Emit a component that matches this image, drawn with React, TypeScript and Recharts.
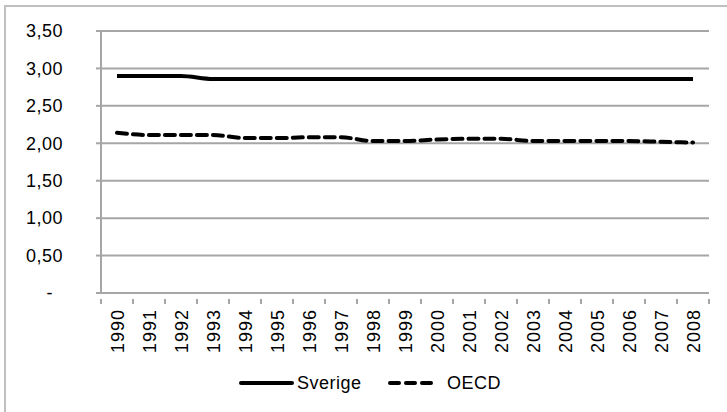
import { ComposedChart, Line, XAxis, YAxis, CartesianGrid } from 'recharts';

const years = ['1990', '1991', '1992', '1993', '1994', '1995', '1996', '1997', '1998', '1999', '2000', '2001', '2002', '2003', '2004', '2005', '2006', '2007', '2008'];
const sverige = [2.9, 2.9, 2.9, 2.86, 2.86, 2.86, 2.86, 2.86, 2.86, 2.86, 2.86, 2.86, 2.86, 2.86, 2.86, 2.86, 2.86, 2.86, 2.86];
const oecd = [2.14, 2.11, 2.11, 2.11, 2.07, 2.07, 2.08, 2.08, 2.03, 2.03, 2.05, 2.06, 2.06, 2.03, 2.03, 2.03, 2.03, 2.02, 2.01];
const yTicks = [0, 0.5, 1, 1.5, 2, 2.5, 3, 3.5];

const data = years.map((y, i) => ({ year: y, Sverige: sverige[i], OECD: oecd[i] }));

const FONT = '"Liberation Sans", Arial, sans-serif';
const GRID = '#a6a6a6';
const BAND = 608 / years.length;

const fmt = (v: number) => (v === 0 ? '-' : v.toFixed(2).replace('.', ','));

const YTick = (props: any) => {
  const { x, y, payload } = props;
  const v = payload.value;
  return (
    <text x={v === 0 ? x - 10 : x} y={y} dy="0.35em" textAnchor="end" fontFamily={FONT} fontSize={18} letterSpacing={0.5} fill="#000">
      {fmt(v)}
    </text>
  );
};

const XTick = (props: any) => {
  const { x, y, payload, index } = props;
  const half = BAND / 2;
  return (
    <g>
      <line x1={x - half} y1={y - 10} x2={x - half} y2={y - 5} stroke={GRID} strokeWidth={2} />
      {index === years.length - 1 && (
        <line x1={x + half} y1={y - 10} x2={x + half} y2={y - 5} stroke={GRID} strokeWidth={2} />
      )}
      <text transform={`translate(${x + 1},${y}) rotate(-90)`} dy="0.35em" textAnchor="end" fontFamily={FONT} fontSize={18} letterSpacing={1} fill="#000">
        {payload.value}
      </text>
    </g>
  );
};

const App = () => {
  return (
    <div style={{ position: 'absolute', left: 0, top: 0, width: 727, height: 412, background: '#fff', overflow: 'hidden' }}>
      <div style={{ position: 'absolute', left: 4, top: 5, width: 740, height: 420, borderTop: '2px solid #c0c0c0', borderLeft: '2px solid #c0c0c0' }} />
      <ComposedChart width={727} height={412} data={data} margin={{ top: 31, right: 18, left: 0, bottom: 59 }}>
        <CartesianGrid vertical={false} stroke={GRID} strokeWidth={2} />
        <XAxis dataKey="year" scale="band" axisLine={{ stroke: GRID, strokeWidth: 2 }} tickLine={false} height={60} interval={0} tick={<XTick />} tickMargin={10} />
        <YAxis domain={[0, 3.5]} ticks={yTicks} width={101} axisLine={{ stroke: GRID, strokeWidth: 2 }} tickLine={{ stroke: GRID, strokeWidth: 2 }} tickSize={5} tickMargin={33} tick={<YTick />} />
        <Line type="monotone" dataKey="Sverige" stroke="#000" strokeWidth={4} dot={false} isAnimationActive={false} />
        <Line type="monotone" dataKey="OECD" stroke="#000" strokeWidth={4} strokeDasharray="10 6" strokeLinecap="round" dot={false} isAnimationActive={false} />
      </ComposedChart>
      <svg style={{ position: 'absolute', left: 0, top: 365 }} width={727} height={40}>
        <line x1={241} y1={18} x2={292} y2={18} stroke="#000" strokeWidth={4} strokeLinecap="round" />
        <text x={297} y={18} dy="0.35em" fontFamily={FONT} fontSize={18} letterSpacing={0.5} fill="#000">Sverige</text>
        <line x1={390} y1={18} x2={436} y2={18} stroke="#000" strokeWidth={4} strokeDasharray="9 7" strokeLinecap="round" />
        <text x={447} y={18} dy="0.35em" fontFamily={FONT} fontSize={18} letterSpacing={0.5} fill="#000">OECD</text>
      </svg>
    </div>
  );
};

export default App;
